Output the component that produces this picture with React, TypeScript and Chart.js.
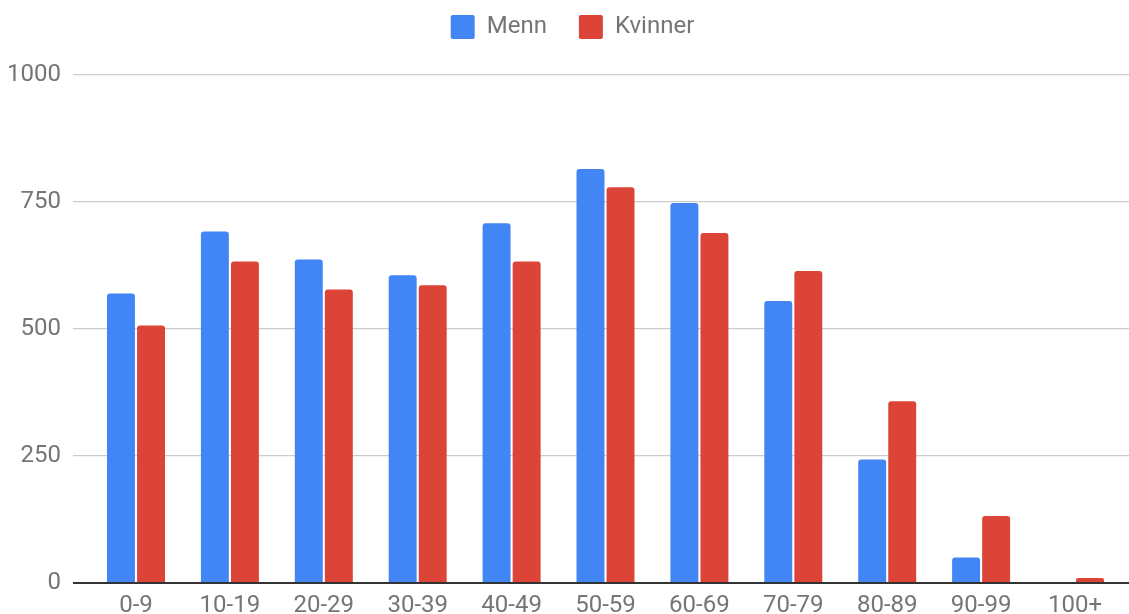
import React, { useEffect, useRef } from "react";
import { Chart, registerables } from "chart.js";

Chart.register(...registerables);

const categories = ["0-9", "10-19", "20-29", "30-39", "40-49", "50-59", "60-69", "70-79", "80-89", "90-99", "100+"];
const menn = [570, 692, 637, 606, 708, 815, 748, 555, 243, 50, 0];
const kvinner = [507, 633, 578, 586, 633, 779, 689, 614, 358, 132, 10];
const yTicks = [0, 250, 500, 750, 1000];

const FONT = "Roboto, 'Noto Sans', sans-serif";
const GREY = "#757575";

export default function App() {
  const ref = useRef<HTMLCanvasElement | null>(null);

  useEffect(() => {
    if (!ref.current) return;
    const legendSpacer = {
      id: "legendSpacer",
      beforeInit(chart: any) {
        const lg = chart.legend;
        if (!lg) return;
        const orig = lg.fit;
        lg.fit = function () {
          orig.call(this);
          this.height += 26;
        };
      },
      afterLayout(chart: any) {
        const lg = chart.legend;
        if (!lg) return;
        lg.left += 8;
        lg.right += 8;
      },
    };
    const radius = { topLeft: 3, topRight: 3, bottomLeft: 0, bottomRight: 0 };
    const chart = new Chart(ref.current, {
      type: "bar",
      data: {
        datasets: [
          {
            label: "Menn",
            data: menn.map((v, i) => ({ x: i, y: v })),
            backgroundColor: "#4285F4",
            borderWidth: 0,
            borderRadius: radius,
            borderSkipped: "start",
          },
          {
            label: "Kvinner",
            data: kvinner.map((v, i) => ({ x: i, y: v })),
            backgroundColor: "#DB4437",
            borderWidth: 0,
            borderRadius: radius,
            borderSkipped: "start",
          },
        ],
      },
      options: {
        animation: false,
        responsive: false,
        maintainAspectRatio: false,
        layout: { padding: { left: 0, right: 0, top: -17, bottom: 0 } },
        datasets: {
          bar: { categoryPercentage: 0.64, barPercentage: 0.93 },
        },
        plugins: {
          tooltip: { enabled: false },
          legend: {
            position: "top",
            labels: {
              boxWidth: 24,
              boxHeight: 24,
              padding: 32,
              color: GREY,
              font: { family: FONT, size: 24 },
              useBorderRadius: true,
              borderRadius: 2,
            },
          },
        },
        scales: {
          x: {
            type: "linear",
            offset: false,
            min: -0.671,
            max: 10.575,
            grid: { display: false, drawTicks: false, offset: false },
            border: { display: false },
            afterFit(scale: any) {
              scale.height = 57;
            },
            ticks: {
              stepSize: 1,
              includeBounds: false,
              autoSkip: false,
              maxRotation: 0,
              padding: 9,
              color: GREY,
              font: { family: FONT, size: 24 },
              callback: (v: any) => {
                const i = Math.round(Number(v));
                return Math.abs(Number(v) - i) < 1e-6 && categories[i] !== undefined ? categories[i] : "";
              },
            },
          },
          y: {
            min: 0,
            max: 1000,
            afterFit(scale: any) {
              scale.width = 73;
            },
            afterBuildTicks(scale: any) {
              scale.ticks = yTicks.map((v) => ({ value: v }));
            },
            border: { display: false },
            grid: {
              drawTicks: false,
              color: (ctx: any) => (ctx.tick && ctx.tick.value === 0 ? "#333333" : "#cccccc"),
              lineWidth: (ctx: any) => (ctx.tick && ctx.tick.value === 0 ? 2 : 1.3),
            },
            ticks: {
              padding: 12,
              color: GREY,
              font: { family: FONT, size: 24 },
              callback: (v: any) => String(v),
            },
          },
        },
      },
      plugins: [legendSpacer],
    } as any);
    return () => chart.destroy();
  }, []);

  return (
    <div style={{ position: "fixed", left: 0, top: 0, width: 1129, height: 640, background: "#ffffff" }}>
      <canvas ref={ref} width={1129} height={640} style={{ display: "block", width: 1129, height: 640 }} />
    </div>
  );
}
